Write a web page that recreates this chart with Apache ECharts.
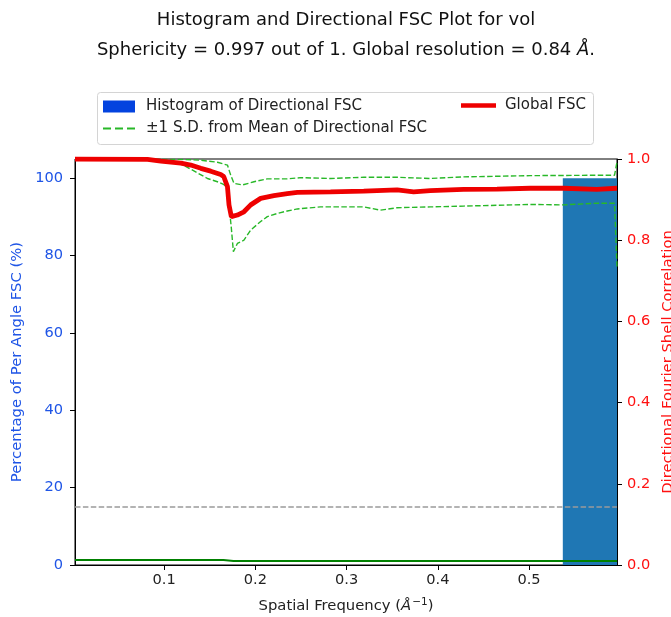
<!DOCTYPE html>
<html>
<head>
<meta charset="utf-8">
<script src="https://cdn.jsdelivr.net/npm/echarts@6/dist/echarts.min.js"></script>
<style>
html,body{margin:0;padding:0;background:#fff;overflow:hidden;}
#chart{width:671px;height:617px;}
</style>
</head>
<body>
<div id="chart"></div>
<script>
// ---- data ----
const xTicks = [0.1, 0.2, 0.3, 0.4, 0.5];
const leftTicks = [0, 20, 40, 60, 80, 100];

const histLeft = [0.537];
const histRight = [0.5964];
const histPercent = [100];

const globalFreq = [0.0023, 0.0818, 0.0964, 0.1183, 0.1292, 0.1402, 0.1511, 0.1620, 0.1653, 0.1694, 0.1711, 0.1737, 0.1803, 0.1875, 0.1949, 0.2058, 0.2203, 0.2350, 0.2460, 0.2824, 0.3188, 0.3554, 0.3735, 0.3918, 0.4282, 0.4648, 0.5012, 0.5376, 0.5742, 0.5964];
const globalFsc = [1.0, 0.999, 0.995, 0.990, 0.985, 0.977, 0.970, 0.962, 0.957, 0.932, 0.887, 0.858, 0.862, 0.870, 0.887, 0.903, 0.910, 0.915, 0.918, 0.919, 0.921, 0.924, 0.919, 0.922, 0.925, 0.926, 0.928, 0.928, 0.925, 0.928];

const upperFreq = [0.0023, 0.1183, 0.1402, 0.1584, 0.1694, 0.1730, 0.1766, 0.1858, 0.1985, 0.2131, 0.2350, 0.2496, 0.2824, 0.3188, 0.3554, 0.3918, 0.4282, 0.5012, 0.5742, 0.5937, 0.5964];
const upperFsc = [1.0, 0.999, 0.997, 0.992, 0.985, 0.960, 0.940, 0.936, 0.944, 0.951, 0.951, 0.954, 0.952, 0.955, 0.955, 0.952, 0.956, 0.959, 0.960, 0.960, 0.993];

const lowerFreq = [0.0023, 0.0854, 0.0964, 0.1183, 0.1292, 0.1475, 0.1584, 0.1656, 0.1694, 0.1711, 0.1737, 0.1759, 0.1803, 0.1875, 0.1949, 0.2058, 0.2131, 0.2241, 0.2350, 0.2460, 0.2714, 0.3188, 0.3371, 0.3554, 0.3918, 0.4282, 0.5012, 0.5376, 0.5742, 0.5937, 0.5964];
const lowerFsc = [1.0, 0.999, 0.996, 0.988, 0.975, 0.952, 0.944, 0.937, 0.925, 0.887, 0.829, 0.772, 0.792, 0.800, 0.825, 0.846, 0.858, 0.866, 0.872, 0.877, 0.882, 0.882, 0.874, 0.880, 0.882, 0.884, 0.888, 0.887, 0.891, 0.891, 0.735];

const baseFreq = [0.0023, 0.165, 0.176, 0.5964];
const baseVal = [0.0125, 0.0125, 0.010, 0.010];

const thresholdFreq = [0.0023, 0.5964];
const thresholdVal = [0.143, 0.143];

// ---- build ----
const zip = (a, b) => a.map((v, i) => [v, b[i]]);
const FONT = 'DejaVu Sans';
const BLUE = '#1f55e6';
const RED = '#ff1111';
const HIST = 'Histogram of Directional FSC';
const SD = '±1 S.D. from Mean of Directional FSC';
const GFSC = 'Global FSC';
const dash = [5.5, 2.4];
const TICK = 14.6;
const LEG = 15;
const NAME = 14.8;

const chart = echarts.init(document.getElementById('chart'), null, {renderer: 'canvas'});
chart.setOption({
  animation: false,
  backgroundColor: '#fff',
  textStyle: {fontFamily: FONT},
  title: {
    left: 346, textAlign: 'center', top: 5, padding: 0,
    text: 'Histogram and Directional FSC Plot for vol\nSphericity = 0.997 out of 1. Global resolution = 0.84 {i|Å}.',
    textStyle: {
      fontFamily: FONT, fontSize: 18, fontWeight: 'normal', color: '#111', lineHeight: 30,
      rich: {i: {fontFamily: FONT, fontSize: 18, fontStyle: 'italic', color: '#111', lineHeight: 30}}
    }
  },
  graphic: [{
    type: 'rect', left: 97, top: 92, z: -1,
    shape: {width: 496, height: 52, r: 3},
    style: {fill: '#fff', stroke: '#d4d4d4', lineWidth: 1}
  }],
  legend: [
    {
      data: [{name: HIST, itemStyle: {color: '#0343df'}}],
      left: 103, top: 98, padding: 0, icon: 'rect', itemWidth: 32, itemHeight: 12,
      selectedMode: false,
      textStyle: {fontFamily: FONT, fontSize: LEG, color: '#222', lineHeight: 17, padding: [0, 0, 0, 6]}
    },
    {
      data: [{name: SD, icon: 'path://M0,0h8v2h-8z M12,0h8v2h-8z M24,0h8v2h-8z'}],
      left: 103, top: 120, padding: 0, itemWidth: 32, itemHeight: 2,
      itemStyle: {borderWidth: 0, color: '#28b828'},
      selectedMode: false,
      textStyle: {fontFamily: FONT, fontSize: LEG, color: '#222', lineHeight: 17, padding: [0, 0, 0, 6]}
    },
    {
      data: [{name: GFSC}],
      left: 461, top: 97, padding: 0, icon: 'rect', itemWidth: 35, itemHeight: 4.5,
      itemStyle: {borderWidth: 0, color: '#ee0000'},
      selectedMode: false,
      textStyle: {fontFamily: FONT, fontSize: LEG, color: '#222', lineHeight: 17, padding: [0, 0, 0, 4]}
    }
  ],
  grid: {
    left: 75, right: 54, top: 159, bottom: 52,
    outerBoundsMode: 'none',
    show: true, borderColor: '#000', borderWidth: 1
  },
  xAxis: {
    type: 'value', min: 0.0023, max: 0.5964,
    name: 'Spatial Frequency ({i|Å}{sup|−1})',
    nameLocation: 'middle', nameGap: 32,
    nameTextStyle: {
      fontFamily: FONT, fontSize: NAME, color: '#222', lineHeight: 18,
      rich: {
        i: {fontFamily: FONT, fontSize: NAME, fontStyle: 'italic', color: '#222', lineHeight: 18},
        sup: {fontFamily: FONT, fontSize: 10.5, color: '#222', lineHeight: 10, verticalAlign: 'top', padding: [0, 0, 0, 1]}
      }
    },
    axisLine: {show: true, onZero: false, lineStyle: {color: '#000', width: 1}},
    axisTick: {show: true, length: 5, inside: false, customValues: xTicks, lineStyle: {color: '#000'}},
    axisLabel: {customValues: xTicks, margin: 8, fontFamily: FONT, fontSize: TICK, color: '#222',
      formatter: v => v.toFixed(1)},
    splitLine: {show: false}
  },
  yAxis: [
    {
      type: 'value', min: 0, max: 105, position: 'left',
      name: 'Percentage of Per Angle FSC (%)', nameLocation: 'middle', nameGap: 49, nameRotate: 90,
      nameTextStyle: {fontFamily: FONT, fontSize: NAME, color: BLUE},
      axisLine: {show: true, lineStyle: {color: '#000'}},
      axisTick: {show: true, length: 5, customValues: leftTicks, lineStyle: {color: '#000'}},
      axisLabel: {customValues: leftTicks, margin: 12, fontFamily: FONT, fontSize: TICK, color: BLUE},
      splitLine: {show: false}
    },
    {
      type: 'value', min: 0, max: 1, interval: 0.2, position: 'right',
      name: 'Directional Fourier Shell Correlation', nameLocation: 'middle', nameGap: 31, nameRotate: 90,
      nameTextStyle: {fontFamily: FONT, fontSize: NAME, color: RED},
      axisLine: {show: true, lineStyle: {color: '#000'}},
      axisTick: {show: true, length: 5, lineStyle: {color: '#000'}},
      axisLabel: {margin: 10, fontFamily: FONT, fontSize: TICK, color: RED, formatter: v => v.toFixed(1)},
      splitLine: {show: false}
    }
  ],
  series: [
    {
      name: HIST, type: 'custom', xAxisIndex: 0, yAxisIndex: 0,
      itemStyle: {color: '#1f77b4'},
      encode: {x: [0, 1], y: 2},
      data: histLeft.map((l, i) => [l, histRight[i], histPercent[i]]),
      renderItem: (params, api) => {
        const p0 = api.coord([api.value(0), api.value(2)]);
        const p1 = api.coord([api.value(1), 0]);
        return {type: 'rect', shape: {x: p0[0], y: p0[1], width: p1[0] - p0[0], height: p1[1] - p0[1]},
          style: {fill: '#1f77b4'}};
      },
      z: 1
    },
    {
      name: 'threshold', type: 'line', yAxisIndex: 1, data: zip(thresholdFreq, thresholdVal),
      showSymbol: false, symbol: 'none', lineStyle: {color: '#9a9a9a', width: 1.5, type: dash}, z: 2
    },
    {
      name: 'base', type: 'line', yAxisIndex: 1, data: zip(baseFreq, baseVal),
      showSymbol: false, symbol: 'none', lineStyle: {color: '#008000', width: 2}, z: 3
    },
    {
      name: SD, type: 'line', yAxisIndex: 1, data: zip(upperFreq, upperFsc),
      showSymbol: false, symbol: 'none', itemStyle: {color: '#28b828'},
      lineStyle: {color: '#28b828', width: 1.4, type: dash}, z: 4
    },
    {
      name: SD, type: 'line', yAxisIndex: 1, data: zip(lowerFreq, lowerFsc),
      showSymbol: false, symbol: 'none', itemStyle: {color: '#28b828'},
      lineStyle: {color: '#28b828', width: 1.4, type: dash}, z: 4
    },
    {
      name: GFSC, type: 'line', yAxisIndex: 1, data: zip(globalFreq, globalFsc),
      showSymbol: false, symbol: 'none', itemStyle: {color: '#ee0000'},
      lineStyle: {color: '#ee0000', width: 4.8}, z: 5
    }
  ]
});
</script>
</body>
</html>
